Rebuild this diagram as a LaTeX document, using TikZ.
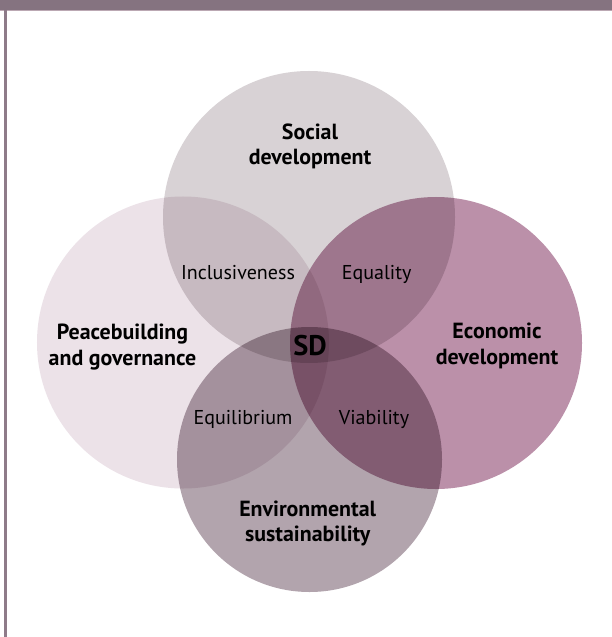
\documentclass[tikz,border=0pt]{standalone}
\usepackage{fontspec}
\setmainfont{PT Sans}
\begin{document}
\begin{tikzpicture}[x=1bp,y=-1bp,
  disc/.style={circle, inner sep=0pt, minimum size=#1},
  pillar/.style={font=\fontsize{22}{25.5}\selectfont\bfseries, align=center},
  link/.style={font=\fontsize{20.1}{26}\selectfont},
  core/.style={font=\fontsize{28.5}{32}\selectfont\bfseries}]
\definecolor{barcol}{HTML}{857380}
\definecolor{barline}{HTML}{BBA8B3}
\definecolor{sidecol}{HTML}{8E7B89}
\definecolor{socialcol}{HTML}{D8D2D5}
\definecolor{peacecol}{HTML}{ECE2E8}
\definecolor{econcol}{HTML}{BB90A9}
\definecolor{envcol}{HTML}{B2A4AD}
\useasboundingbox (0,0) rectangle (612,637);
\fill[white] (0,0) rectangle (612,637);
% frame: header band and left rule
\fill[barcol] (0,0) rectangle (612,10);
\fill[barline] (0,10) rectangle (612,11.2);
\fill[sidecol] (4,10) rectangle (6.7,637);
% four pillars, overlapping by multiplication
\begin{scope}[blend group=multiply]
  \node[disc=292bp, fill=socialcol] (social) at (309,217) {};
  \node[disc=292bp, fill=peacecol] (peace) at (183,342.5) {};
  \node[disc=292bp, fill=econcol] (econ) at (436,343) {};
  \node[disc=265bp, fill=envcol] (env) at (309.5,459.5) {};
\end{scope}
% pillar names (anchored on the baseline of the last line)
\node[pillar, anchor=base] (socialtxt) at (310,165) {Social\\development};
\node[pillar, anchor=base] (peacetxt) at (122.5,365) {Peacebuilding\\and governance};
\node[pillar, anchor=base] (econtxt) at (497,364) {Economic\\development};
\node[pillar, anchor=base] (envtxt) at (307.7,541.5) {Environmental\\sustainability};
% pairwise overlaps
\node[link, anchor=base] (incl) at (238,279) {Inclusiveness};
\node[link, anchor=base] (equal) at (376.7,279) {Equality};
\node[link, anchor=base] (equil) at (243,424) {Equilibrium};
\node[link, anchor=base] (viab) at (374,424) {Viability};
% centre
\node[core, anchor=base] (sd) at (310,355) {SD};
\end{tikzpicture}
\end{document}
